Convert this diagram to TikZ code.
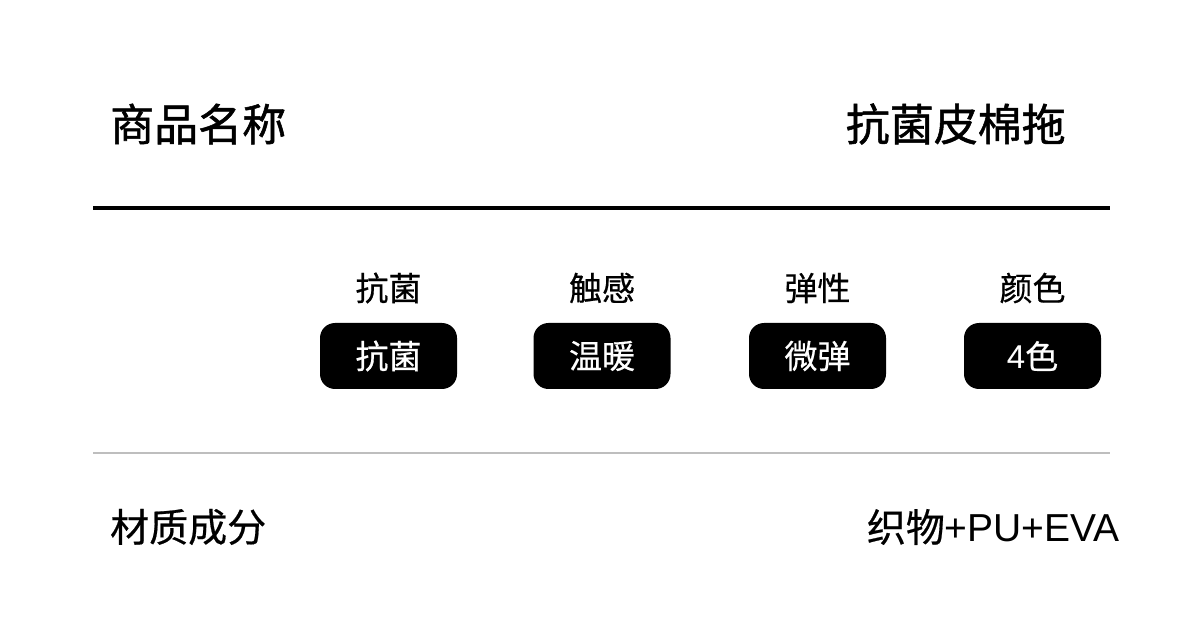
\documentclass[tikz,border=0pt]{standalone}
\usepackage{fontspec}
\setmainfont{Noto Sans CJK SC}
\newfontfamily\cjk[FakeBold=0.5]{Noto Sans CJK SC}
\newfontfamily\cjkb[FakeBold=1.2]{Noto Sans CJK SC}
\newfontfamily\latn{Liberation Sans}
\begin{document}
\begin{tikzpicture}[x=1pt,y=-1pt,
  title/.style={inner sep=0pt,font=\fontsize{44}{50}\selectfont\cjkb},
  collabel/.style={inner sep=0pt,font=\fontsize{33}{38}\selectfont\cjk},
  chip/.style={fill=black,text=white,rounded corners=15pt,minimum width=137pt,minimum height=66pt,inner sep=0pt,font=\fontsize{33}{38}\selectfont\cjk},
  rowtext/.style={inner sep=0pt,font=\fontsize{39}{44}\selectfont\cjk}]
\useasboundingbox (0,0) rectangle (1200,644);
\fill[white] (0,0) rectangle (1200,644);
\node[title,anchor=west] (t1) at (110,124) {商品名称};
\node[title,anchor=east] (t2) at (1066,124) {抗菌皮棉拖};
\coordinate (l1a) at (93,208);
\coordinate (l1b) at (1110,208);
\draw[line width=4pt] (l1a) -- (l1b);
\node[collabel] (c1) at (388.5,288) {抗菌};
\node[collabel] (c2) at (602,288) {触感};
\node[collabel] (c3) at (817.5,288) {弹性};
\node[collabel] (c4) at (1032.5,288) {颜色};
\node[chip] (v1) at (388.5,356) {抗菌};
\node[chip] (v2) at (602,356) {温暖};
\node[chip] (v3) at (817.5,356) {微弹};
\node[chip] (v4) at (1032.5,356) {{\latn 4}色};
\coordinate (l2a) at (93,453);
\coordinate (l2b) at (1110,453);
\draw[line width=2pt,color={rgb,255:red,190;green,190;blue,190}] (l2a) -- (l2b);
\node[rowtext,anchor=west] (m1) at (110,527) {材质成分};
\node[rowtext,anchor=east] (m2) at (1120,527) {织物{\latn +PU+EVA}};
\end{tikzpicture}
\end{document}
